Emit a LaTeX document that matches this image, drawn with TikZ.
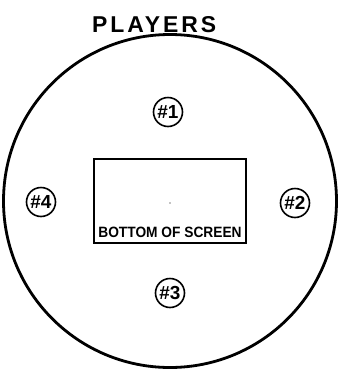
\documentclass[tikz,border=0pt]{standalone}
\usepackage{graphicx}
\usepackage{fontspec}
\setmainfont{Liberation Sans}
\newfontfamily\lettering[LetterSpace=13]{Liberation Sans}
\begin{document}
\begin{tikzpicture}[x=1bp,y=-1bp]%
% table plan, coordinates in bp, y downwards
\tikzset{seat/.style={draw,circle,line width=1.6bp,minimum size=29bp,inner sep=0pt,
  font=\bfseries\fontsize{19}{19}\selectfont}}
\useasboundingbox (0,0) rectangle (339,372);
\node[draw,circle,line width=2.8bp,minimum size=333bp,inner sep=0pt] (table) at (170,201) {};
\node[anchor=base west,inner sep=0pt,font=\lettering\bfseries\fontsize{23}{23}\selectfont] (players) at (92,32) {PLAYERS};
\node[draw,line width=2bp,minimum width=152bp,minimum height=84bp,inner sep=0pt] (screen) at (170,201) {};
\node[anchor=base,inner sep=0pt,font=\bfseries\fontsize{15}{15}\selectfont] (bottom) at (170,237)
  {\scalebox{0.92}[1]{BOTTOM OF SCREEN}};
\coordinate (mid) at (170,203);
\fill (mid) circle (0.7bp);
\node[seat] (p1) at (168,112) {\#1};
\node[seat] (p2) at (295,203) {\#2};
\node[seat] (p3) at (170,293) {\#3};
\node[seat] (p4) at (41,202) {\#4};
\end{tikzpicture}
\end{document}
